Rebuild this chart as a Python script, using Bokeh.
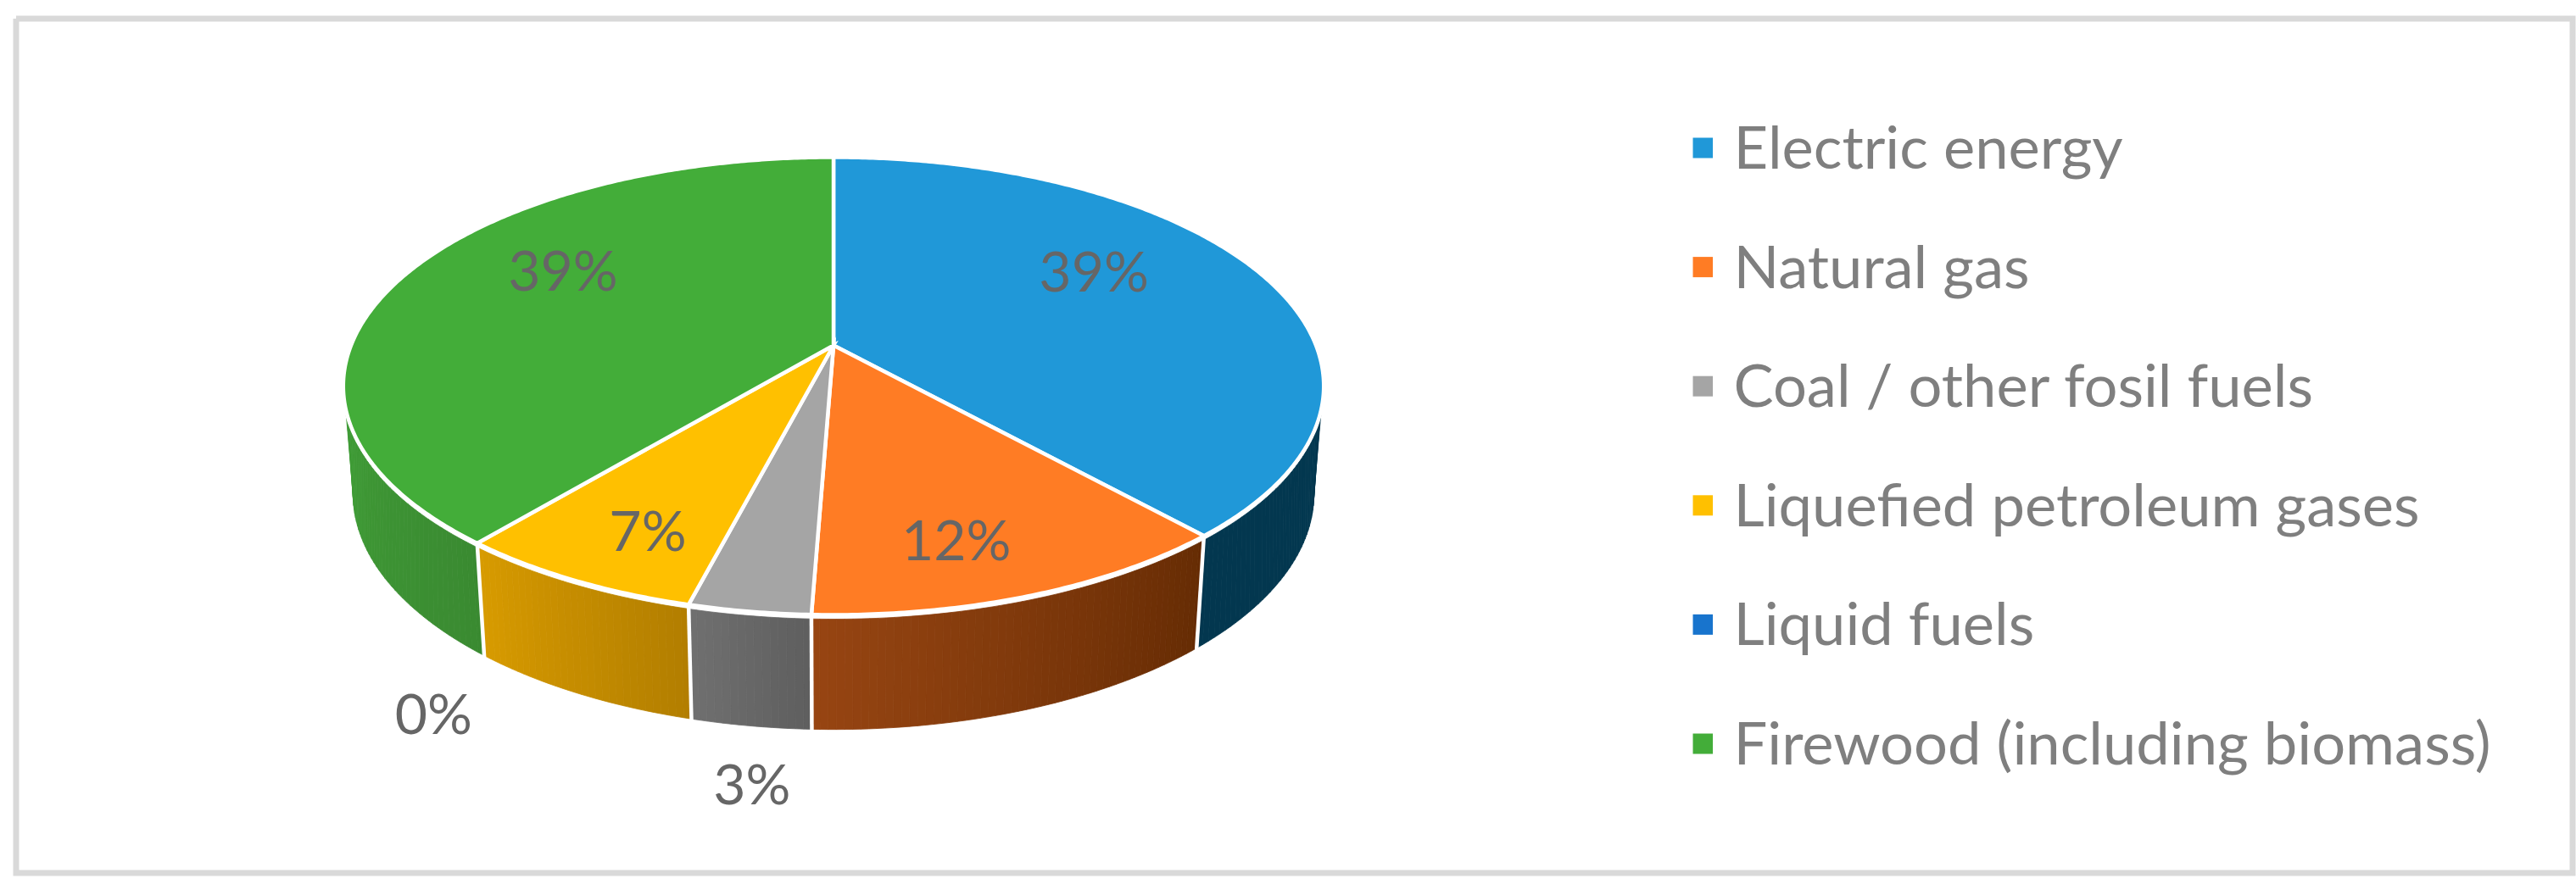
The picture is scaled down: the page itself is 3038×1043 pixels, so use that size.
import math
from bokeh.plotting import figure
from bokeh.models import Range1d
from bokeh.core.properties import value
from bokeh.embed import file_html
from bokeh.resources import INLINE

# ---- data ----
categories = ["Electric energy", "Natural gas", "Coal / other fosil fuels",
              "Liquefied petroleum gases", "Liquid fuels", "Firewood (including biomass)"]
shares = [38.4, 12.2, 3.4, 7.0, 0.0, 39.0]
share_labels = ["39%", "12%", "3%", "7%", "0%", "39%"]

# ---- style ----
top_colors = ["#2098D8", "#FF7C24", "#A5A5A5", "#FFC000", "#1874CD", "#43AD39"]
wall_left = ["#03374F", "#974512", "#707070", "#D89B00", "#14599E", "#3F9C36"]
wall_right = ["#03374F", "#662C04", "#5E5E5E", "#B27E00", "#14599E", "#3A8A31"]
# label position inside the pie plane: radius fraction, turn (deg) from the mid angle
label_radius = [0.675, 0.793, 1.471, 0.802, 1.434, 0.696]
label_turn = [-10.9, 3.7, -3.4, -2.3, -13.1, 11.2]

WIDTH, HEIGHT = 3038, 1043
FONT = "Lato"
CX, CY = 982.5, 407.0          # apex of the pie on screen
A, B, K = 569.0, 261.5, 0.1777 # perspective of the disc
LOW_SX, LOW_SY, ELL_Y, LOW_C = 0.98, 1.03, 453.0, 580.0
GAP = 5.0


def rim(theta_deg):
    t = math.radians(theta_deg)
    return rim_r(t, 1.0)


def rim_r(t, r):
    u, v = r * math.sin(t), r * math.cos(t)
    w = 1 + K * v
    return CX + A * u / w, CY - B * v / w


def lower(theta_deg):
    x, y = rim(theta_deg)
    return CX + LOW_SX * (x - CX), LOW_C + LOW_SY * (y - ELL_Y)


def lerp_color(c1, c2, f):
    a = [int(c1[i:i + 2], 16) for i in (1, 3, 5)]
    b = [int(c2[i:i + 2], 16) for i in (1, 3, 5)]
    return "#%02x%02x%02x" % tuple(round(p + (q - p) * f) for p, q in zip(a, b))


p = figure(width=WIDTH, height=HEIGHT, x_range=Range1d(0, WIDTH), y_range=Range1d(HEIGHT, 0),
           output_backend="svg", toolbar_location=None, min_border=0)
p.xaxis.visible = False
p.yaxis.visible = False
p.grid.visible = False
p.outline_line_color = None
p.background_fill_color = "white"
p.border_fill_color = "white"

# frame
p.multi_line([[18.5, 3033.5, 3033.5, 18.5, 18.5]], [[21.5, 21.5, 1029.5, 1029.5, 21.5]],
             line_color="#D9D9D9", line_width=7, line_join="miter")

total = sum(shares)
bounds = [0.0]
for s in shares:
    bounds.append(bounds[-1] + s / total * 360.0)

# visible range of the side wall on the disc (clockwise from top)
RIM_A, RIM_B = 106.4, 253.6
LOW_A, LOW_B = 100.2, 259.8

# side walls, drawn as thin strips to give a horizontal shading
for i in range(len(shares)):
    if shares[i] == 0:
        continue
    a0, a1 = bounds[i], bounds[i + 1]
    r0, r1 = max(a0, RIM_A), min(a1, RIM_B)
    l0, l1 = max(a0, LOW_A), min(a1, LOW_B)
    if r1 <= r0:
        continue
    n = max(4, int((r1 - r0) / 0.8))
    xs, ys, cols = [], [], []
    for j in range(n):
        f0, f1 = j / n, (j + 1) / n
        x0, y0 = rim(r0 + (r1 - r0) * f0)
        x1, y1 = rim(r0 + (r1 - r0) * f1)
        x2, y2 = lower(l0 + (l1 - l0) * f1)
        x3, y3 = lower(l0 + (l1 - l0) * f0)
        xs.append([x0, x1, x2, x3])
        ys.append([y0 + GAP, y1 + GAP, y2, y3])
        # angle runs right to left along the front of the disc
        cols.append(lerp_color(wall_left[i], wall_right[i], 1 - (j + 0.5) / n))
    p.patches(xs, ys, fill_color=cols, line_color=cols, line_width=0.8)

# white seams between the walls
for i, a in enumerate(bounds[1:-1], start=1):
    if shares[i] == 0 or not (RIM_A <= a <= RIM_B):
        continue
    x0, y0 = rim(a)
    x1, y1 = lower(a)
    p.line([x0, x1], [y0, y1 + 2], line_color="white", line_width=4.5)

# top of the pie
for i in range(len(shares)):
    if shares[i] == 0:
        continue
    a0, a1 = bounds[i], bounds[i + 1]
    n = max(8, int((a1 - a0) / 0.5))
    pts = [rim(a0 + (a1 - a0) * j / n) for j in range(n + 1)]
    xs = [CX] + [q[0] for q in pts]
    ys = [CY] + [q[1] for q in pts]
    p.patch(xs, ys, fill_color=top_colors[i], line_color="white", line_width=4.5, line_join="miter")

# percentage labels
for i, lab in enumerate(share_labels):
    mid = (bounds[i] + bounds[i + 1]) / 2 + label_turn[i]
    x, y = rim_r(math.radians(mid), label_radius[i])
    p.text([x], [y - 2], text=[lab], text_color="#666666", text_align="center",
           text_baseline="alphabetic", text_font=value(FONT), text_font_size="66px")

# legend
LEG_X0, LEG_Y0, LEG_DY = 1996.0, 174.0, 140.6
for i, name in enumerate(categories):
    yc = LEG_Y0 + i * LEG_DY
    p.quad(left=[LEG_X0], right=[LEG_X0 + 23.5], top=[yc - 12], bottom=[yc + 12],
           fill_color=top_colors[i], line_color=None)
    p.text([LEG_X0 + 48], [yc - 3], text=[name], text_color="#7F7F7F", text_align="left",
           text_baseline="alphabetic", text_font=value(FONT), text_font_size="70.5px")

open("out.html", "w").write(file_html(p, INLINE))
